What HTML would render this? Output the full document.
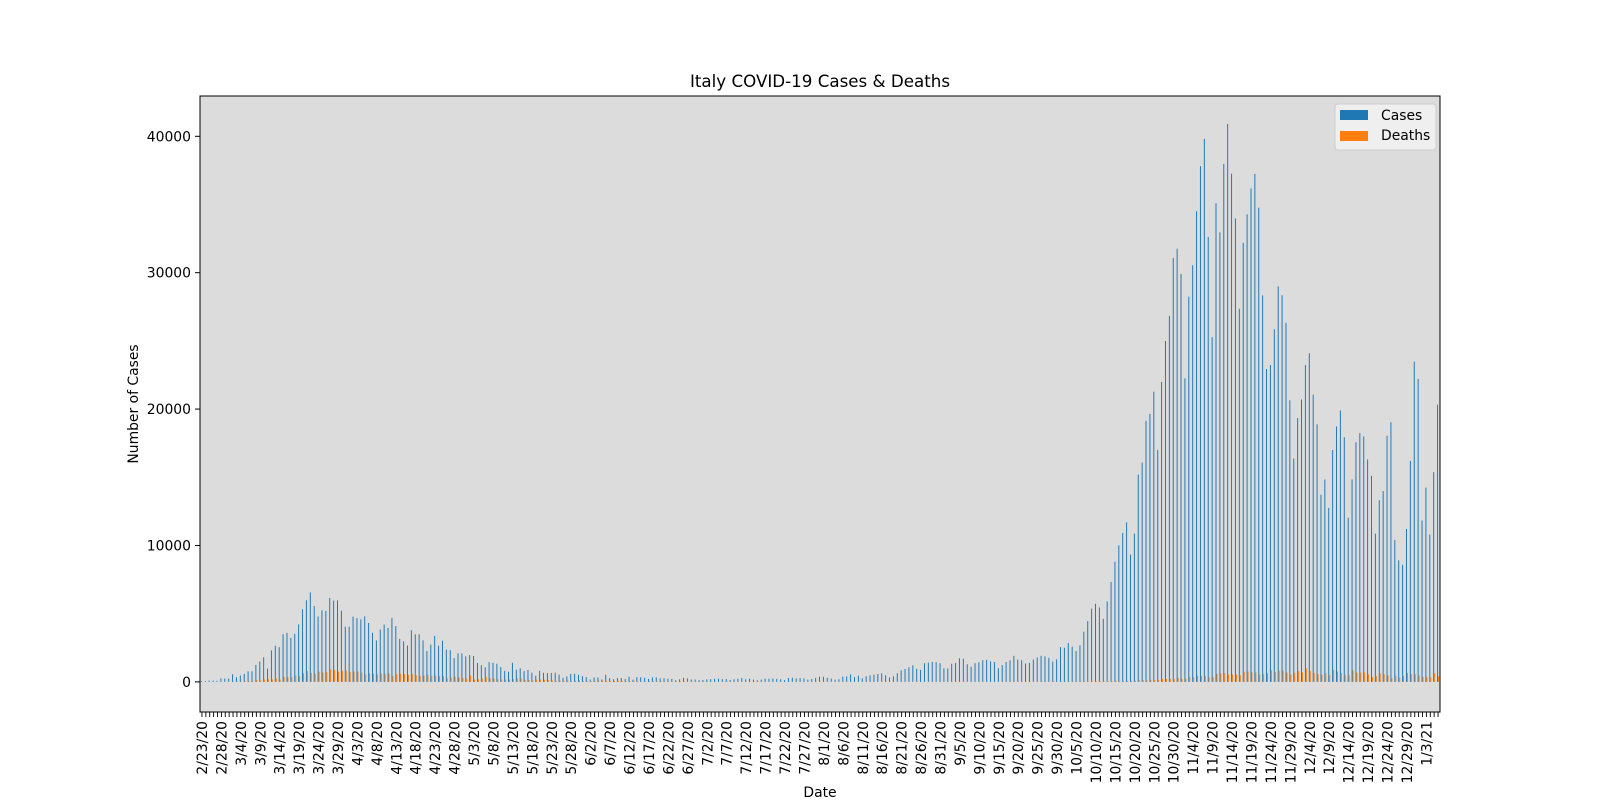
<!DOCTYPE html>
<html><head><meta charset="utf-8"><style>
html,body{margin:0;padding:0;background:#fff;}
svg{display:block;font-family:"DejaVu Sans","Liberation Sans",sans-serif;}
</style></head><body>
<svg id="chart" width="1600" height="800" viewBox="0 0 1600 800">
<rect x="0" y="0" width="1600" height="800" fill="#fff"/>
<rect x="200" y="96" width="1240" height="616" fill="#dcdcdc"/>
<g id="bars"></g>
<g id="axes"></g>
<rect x="200" y="96" width="1240" height="616" fill="none" stroke="#000" stroke-width="1"/>
<text x="820" y="87" text-anchor="middle" font-size="16.7">Italy COVID-19 Cases &amp; Deaths</text>
<text x="820" y="797" text-anchor="middle" font-size="13.9">Date</text>
<text transform="translate(138,404) rotate(-90)" text-anchor="middle" font-size="13.9">Number of Cases</text>
<g>
<rect x="1335" y="104" width="101" height="46" rx="3" fill="#f4f4f4" fill-opacity="0.8" stroke="#ccc" stroke-width="1"/>
<rect x="1340" y="110" width="28" height="10" fill="#1f77b4"/>
<text x="1381" y="120" font-size="13.9">Cases</text>
<rect x="1340" y="131" width="28" height="10" fill="#ff7f0e"/>
<text x="1381" y="140" font-size="13.9">Deaths</text>
</g>
</svg>
<script>
const casesFeb=[62,53,97,93,78,250,238];
const casesMar=[240,561,347,466,587,769,778,1247,1492,1797,977,2313,2651,2547,3497,3590,3233,3526,4207,5322,5986,6557,5560,4789,5249,5210,6153,5959,5974,5217,4050];
const casesApr=[4053,4782,4668,4585,4805,4316,3599,3039,3836,4204,3951,4694,4092,3153,2972,2667,3786,3493,3491,3047,2256,2729,3370,2646,3021,2357,2324,1739,2091,2086];
const casesMay=[1872,1965,1900,1389,1221,1075,1444,1401,1327,1083,802,744,1402,888,992,789,875,675,451,813,665,642,652,669,531,300,397,584,593,516,416];
const casesJun=[355,178,318,321,177,518,270,197,280,283,202,379,163,346,338,301,210,328,333,251,262,224,218,122,190,296,259,175,174,126];
const casesJul=[142,187,201,223,235,192,208,138,193,229,276,188,234,169,114,162,230,233,249,219,190,129,282,306,252,275,255,170,212,289,386];
const casesAug=[379,295,239,159,190,384,402,552,347,463,259,412,481,523,574,629,479,320,403,642,845,947,1071,1210,953,878,1367,1411,1462,1444,1365];
const casesSep=[996,978,1326,1397,1733,1695,1297,1108,1370,1434,1597,1616,1501,1458,1008,1229,1452,1585,1907,1638,1587,1350,1392,1640,1786,1912,1869,1766,1494,1648];
const casesOct=[2548,2499,2844,2578,2257,2677,3678,4458,5372,5724,5456,4619,5901,7332,8804,10010,10925,11705,9338,10874,15199,16079,19143,19644,21273,17012,21994,24991,26831,31084,31758];
const casesNov=[29907,22253,28244,30550,34505,37809,39811,32616,25271,35098,32961,37978,40902,37255,33979,27352,32191,34283,36176,37242,34767,28337,22930,23232,25853,29003,28352,26323,20648,16377];
const casesDec=[19350,20709,23225,24099,21052,18887,13720,14842,12756,16999,18727,19903,17938,12030,14844,17572,18236,17992,16308,15104,10872,13318,13990,18040,19037,10407,8913,8585,11212,16202,23477];
const casesJan=[22211,11831,14245,10800,15378,20331];

const deathsFeb=[1,1,4,1,5,4,8];
const deathsMar=[5,18,27,28,41,49,36,133,97,168,196,189,250,175,368,349,345,475,427,627,793,651,601,743,683,712,919,889,756,812,837];
const deathsApr=[727,760,766,681,525,636,604,542,610,570,619,431,566,602,578,525,575,482,433,454,534,437,464,420,415,260,333,382,323,285];
const deathsMay=[269,474,174,195,236,369,274,243,194,165,179,172,195,262,242,153,145,99,162,161,156,130,119,50,92,78,117,70,87,111,75];
const deathsJun=[60,55,71,88,85,72,53,65,79,71,53,56,78,44,26,34,66,47,49,47,24,23,18,30,30,30,8,24,22,23];
const deathsJul=[21,30,15,21,7,8,30,15,12,12,7,9,13,20,17,13,11,14,9,12,15,8,15,10,5,5,6,5,11,3,5];
const deathsAug=[12,5,13,6,10,4,3,13,5,6,6,10,6,3,6,4,7,7,5,6,9,4,7,4,7,13,5,9,9,1,6];
const deathsSep=[6,6,10,6,8,7,4,10,10,9,10,6,7,9,14,9,10,10,24,15,13,20,14,10,17,23,17,16,24,19];
const deathsOct=[23,24,27,22,18,28,31,22,28,29,26,39,41,43,83,47,55,69,73,89,127,136,91,151,128,141,221,205,217,199,297];
const deathsNov=[208,233,353,352,445,428,425,331,356,580,623,636,550,544,546,504,731,753,699,692,546,562,630,853,722,822,827,686,541,672];
const deathsDec=[785,684,993,814,662,564,528,634,499,887,761,649,484,491,846,680,683,674,553,352,415,628,553,459,261,445,305,445,659,575,555];
const deathsJan=[462,364,347,348,649,414];

const yTicks=[0,10000,20000,30000,40000];
const startDate=[2020,1,23];

const cases=[].concat(casesFeb,casesMar,casesApr,casesMay,casesJun,casesJul,casesAug,casesSep,casesOct,casesNov,casesDec,casesJan);
const deaths=[].concat(deathsFeb,deathsMar,deathsApr,deathsMay,deathsJun,deathsJul,deathsAug,deathsSep,deathsOct,deathsNov,deathsDec,deathsJan);
const N=cases.length;
const X0=200,X1=1440,Y0=96,Y1=712,YMIN=-2209,YMAX=42955;
const bw=(X1-X0)/N;
function xs(i){return X0+(i+0.5)*bw;}
function ys(v){return Y1-(v-YMIN)/(YMAX-YMIN)*(Y1-Y0);}
const NS="http://www.w3.org/2000/svg";
const bars=document.getElementById('bars');
const axes=document.getElementById('axes');
function mk(tag,attrs,parent){const e=document.createElementNS(NS,tag);for(const k in attrs)e.setAttribute(k,attrs[k]);parent.appendChild(e);return e;}
for(let i=0;i<N;i++){
  const w=bw*0.25;
  const yc=ys(cases[i]),y0=ys(0);
  const r=mk('rect',{x:xs(i)-w,y:Math.min(yc,y0),width:w,height:Math.abs(y0-yc),fill:'#1f77b4'},bars);
  
  
  const yd=ys(deaths[i]);
  const d=mk('rect',{x:xs(i),y:Math.min(yd,y0),width:w,height:Math.abs(y0-yd),fill:'#ff7f0e'},bars);
  
  
}
for(const t of yTicks){
  const y=ys(t);
  const l=mk('line',{x1:X0-5,x2:X0,y1:y,y2:y,stroke:'#000','stroke-width':1},axes);
  
  
  const tx=mk('text',{x:X0-9,y:y+5,'text-anchor':'end','font-size':13.9},axes);
  tx.textContent=String(t);
  
  
}
for(let i=0;i<N;i++){
  const x=xs(i);
  const l=mk('line',{x1:x,x2:x,y1:Y1,y2:Y1+5,stroke:'#000','stroke-width':0.9},axes);
  
  
  if(i%5===0){
    const dt=new Date(startDate[0],startDate[1],startDate[2]+i);
    const lab=(dt.getMonth()+1)+'/'+dt.getDate()+'/'+String(dt.getFullYear()).slice(2);
    const tx=mk('text',{transform:'translate('+(x+5)+','+(Y1+9)+') rotate(-90)','text-anchor':'end','font-size':13.9},axes);
    tx.textContent=lab;
    
    
  }
}
</script>
</body></html>
